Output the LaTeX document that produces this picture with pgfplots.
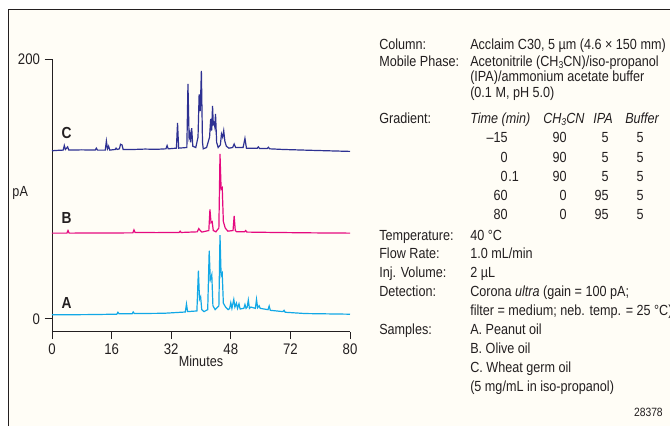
\documentclass[border=0pt]{standalone}
\usepackage{fontspec}
\setmainfont{Liberation Sans}[FakeStretch=0.86]
\usepackage{pgfplots}
\pgfplotsset{compat=1.18}
\definecolor{traceA}{HTML}{12A8E6}
\definecolor{traceB}{HTML}{E5097F}
\definecolor{traceC}{HTML}{2E3192}
\definecolor{paper}{HTML}{FFFDF6}
\definecolor{ink}{HTML}{231F20}

\begin{document}
\begin{tikzpicture}[every node/.style={font=\fontsize{11}{12}\selectfont, text=ink}]
% frame
\fill[paper] (8.5*0.75pt,-9.5*0.75pt) rectangle (670*0.75pt,-426*0.75pt);
\draw[ink, line width=0.8pt] (8.5*0.75pt,-426*0.75pt) -- (8.5*0.75pt,-9.5*0.75pt) -- (670*0.75pt,-9.5*0.75pt);

\begin{axis}[
    at={(52*0.75pt,-331.7*0.75pt)}, anchor=south west,
    scale only axis,
    width=223.5pt, height=204.3pt,
    xmin=0, xmax=80, ymin=-10, ymax=200,
    axis x line*=bottom, axis y line*=left,
    axis line style={ink, line width=0.7pt, -},
    tick align=outside, tick pos=left,
    major tick length=5.5pt,
    tick style={ink, line width=0.7pt},
    xtick={0,16,32,48,64,80},
    xticklabels={0,16,32,48,72,80},
    ytick={0,200}, yticklabels={0,200},
    /pgf/number format/assume math mode=true,
    ticklabel style={font=\fontsize{11.5}{12}\selectfont, text=ink},
    xlabel={Minutes}, xlabel style={yshift=6pt, font=\fontsize{11}{12}\selectfont},
    clip=false,
]
% C. Wheat germ oil
\addplot[traceC, line width=0.9pt] coordinates {
(0,129.5)(1.5,129.8)(3,130)(3.3,133.5)(3.6,130.5)(4.2,132.5)(4.5,130)(8,130.2)
(11.6,130)(11.9,131.5)(12.2,130)(14.3,130)(14.6,137)(14.9,131)(15.2,133)(15.5,130)
(17,130.5)(17.2,131.5)(17.5,130.5)(18.1,131)(18.4,134.5)(18.8,134)(19.1,130.5)
(22,130.5)(25,130.8)(28,130.6)(30.6,131)(30.9,133.5)(31.2,131)(33.4,131.5)(33.7,151)
(34,131.5)(36.2,132)(36.5,181)(36.8,140)(37,142.5)(37.2,136)(37.5,147)(37.8,133)
(38.6,132)(39.2,140)(39.5,173)(39.8,160)(40.1,191)(40.4,136)(40.6,131)(41.5,132)
(42.3,140)(42.6,154)(42.85,145)(43.1,164)(43.3,150)(43.5,151)(43.7,148)(43.9,158)
(44.2,136)(44.6,132)(45.2,134)(45.5,142.5)(45.8,140)(46.1,145)(46.4,137)(46.8,133)
(47.5,131.5)(48.5,132)(48.9,134.7)(49.3,132)(51.3,132)(51.8,139)(52.2,131.5)
(55.1,131.5)(55.4,132.5)(55.7,131.3)(57.8,131.3)(58.1,132.2)(58.4,131)(62,130.5)
(70,129.8)(80,129)
};
% B. Olive oil
\addplot[traceB, line width=0.9pt] coordinates {
(0,66)(4,66)(4.3,68)(4.6,66)(12,66.1)(21.7,66.2)(22,68.5)(22.3,66.5)(28,66.4)
(34.1,66.5)(34.4,67.5)(34.7,66.5)(39,67)(39.4,69.5)(39.8,68)(40.2,66.8)(42.1,68)
(42.4,84.3)(42.7,74)(43,74.8)(43.3,68)(44,67)(44.8,70)(45.1,127)(45.4,100)(45.7,101)
(46,75)(46.5,70)(47.2,67.5)(48.6,68)(48.9,79.2)(49.2,68)(49.6,67)(51.7,67)(52,68)
(52.3,66.8)(60,66.5)(70,66.2)(80,66)
};
% A. Peanut oil
\addplot[traceA, line width=0.9pt] coordinates {
(0,3)(10,3.2)(17.4,3.5)(17.7,5)(18,3.8)(21.5,3.8)(21.8,5.2)(22.1,4)(30,4.2)
(35.8,5.2)(36.1,11.3)(36.4,5.5)(38.9,6)(39.3,37)(39.6,15)(39.9,17)(40.2,7)(40.8,5.5)
(41.8,7)(42.2,52.4)(42.5,30)(42.9,34)(43.2,10)(43.8,7)(44.8,10)(45.1,64.5)(45.4,33)
(45.7,35)(46,12)(46.6,9)(47.3,7)(47.7,8)(48,12.3)(48.3,8)(48.8,14.9)(49.1,9)(49.5,12)
(49.8,8)(50.2,11.5)(50.5,7.5)(51.5,8)(51.8,11)(52.1,8)(52.4,9)(52.7,14.4)(53,8)
(53.4,9)(54.6,8)(54.9,14.9)(55.2,8.5)(55.6,10)(55.9,8)(58,7)(58.3,9.8)(58.6,6.5)
(62,5.5)(62.3,6.5)(62.6,5)(68,4)(80,3.5)
};
\node[font=\fontsize{12}{13}\bfseries] at (axis cs:3.9,143.4) {C};
\node[font=\fontsize{12}{13}\bfseries] at (axis cs:3.9,78) {B};
\node[font=\fontsize{12}{13}\bfseries] at (axis cs:3.9,12.3) {A};
\node[anchor=east] at (axis cs:-5.2,97) {pA};
\end{axis}

\begin{scope}[x=0.75pt, y=-0.75pt, every node/.append style={inner sep=0pt, text height=7.9pt, text depth=0pt}]
\def\lx{379}\def\vx{470}
\node[anchor=west] at (\lx,44) {Column:};
\node[anchor=west] at (\vx,44) {Acclaim C30, 5 µm (4.6 × 150 mm)};
\node[anchor=west] at (\lx,61) {Mobile Phase:};
\node[anchor=west] at (\vx,61) {Acetonitrile (CH\raisebox{-0.35ex}{\fontsize{7.5}{8}\selectfont 3}CN)/iso-propanol};
\node[anchor=west] at (\vx,76.5) {(IPA)/ammonium acetate buffer};
\node[anchor=west] at (\vx,92) {(0.1 M, pH 5.0)};
\node[anchor=west] at (\lx,118) {Gradient:};
\node[anchor=west] at (\vx,118) {\itshape Time (min)};
\node[anchor=west] at (543,118) {\itshape CH\raisebox{-0.35ex}{\fontsize{7.5}{8}\selectfont 3}CN};
\node[anchor=west] at (593,118) {\itshape IPA};
\node[anchor=west] at (625,118) {\itshape Buffer};
% gradient table
\foreach \t/\a/\b/\c [count=\i from 0] in {–15/90/5/5, 0/90/5/5, 0/90/5/5, 60/0/95/5, 80/0/95/5}{
  \pgfmathsetmacro\yy{137.5+19.3*\i}
  \node[anchor=east] at (508,\yy) {\t};
  \node[anchor=east] at (567,\yy) {\a};
  \node[anchor=east] at (609,\yy) {\b};
  \node[anchor=east] at (644,\yy) {\c};
}
\node[anchor=west] at (508,176.1) {.1};
\node[anchor=west] at (\lx,235) {Temperature:};
\node[anchor=west] at (\vx,235) {40 °C};
\node[anchor=west] at (\lx,253.5) {Flow Rate:};
\node[anchor=west] at (\vx,253.5) {1.0 mL/min};
\node[anchor=west] at (\lx,272) {Inj. Volume:};
\node[anchor=west] at (\vx,272) {2 µL};
\node[anchor=west] at (\lx,291) {Detection:};
\node[anchor=west] at (\vx,291) {Corona \textit{ultra} (gain = 100 pA;};
\node[anchor=west] at (\vx,310) {filter = medium; neb. temp. = 25 °C)};
\node[anchor=west] at (\lx,329) {Samples:};
\node[anchor=west] at (\vx,329) {A. Peanut oil};
\node[anchor=west] at (\vx,348.5) {B. Olive oil};
\node[anchor=west] at (\vx,367.5) {C. Wheat germ oil};
\node[anchor=west] at (\vx,386.5) {(5 mg/mL in iso-propanol)};
\node[anchor=east, font=\fontsize{9}{10}\selectfont, text height=6.5pt] at (663,412) {28378};
\end{scope}

\pgfresetboundingbox
\path[use as bounding box] (0,0) rectangle (670*0.75pt,-426*0.75pt);
\end{tikzpicture}
\end{document}
